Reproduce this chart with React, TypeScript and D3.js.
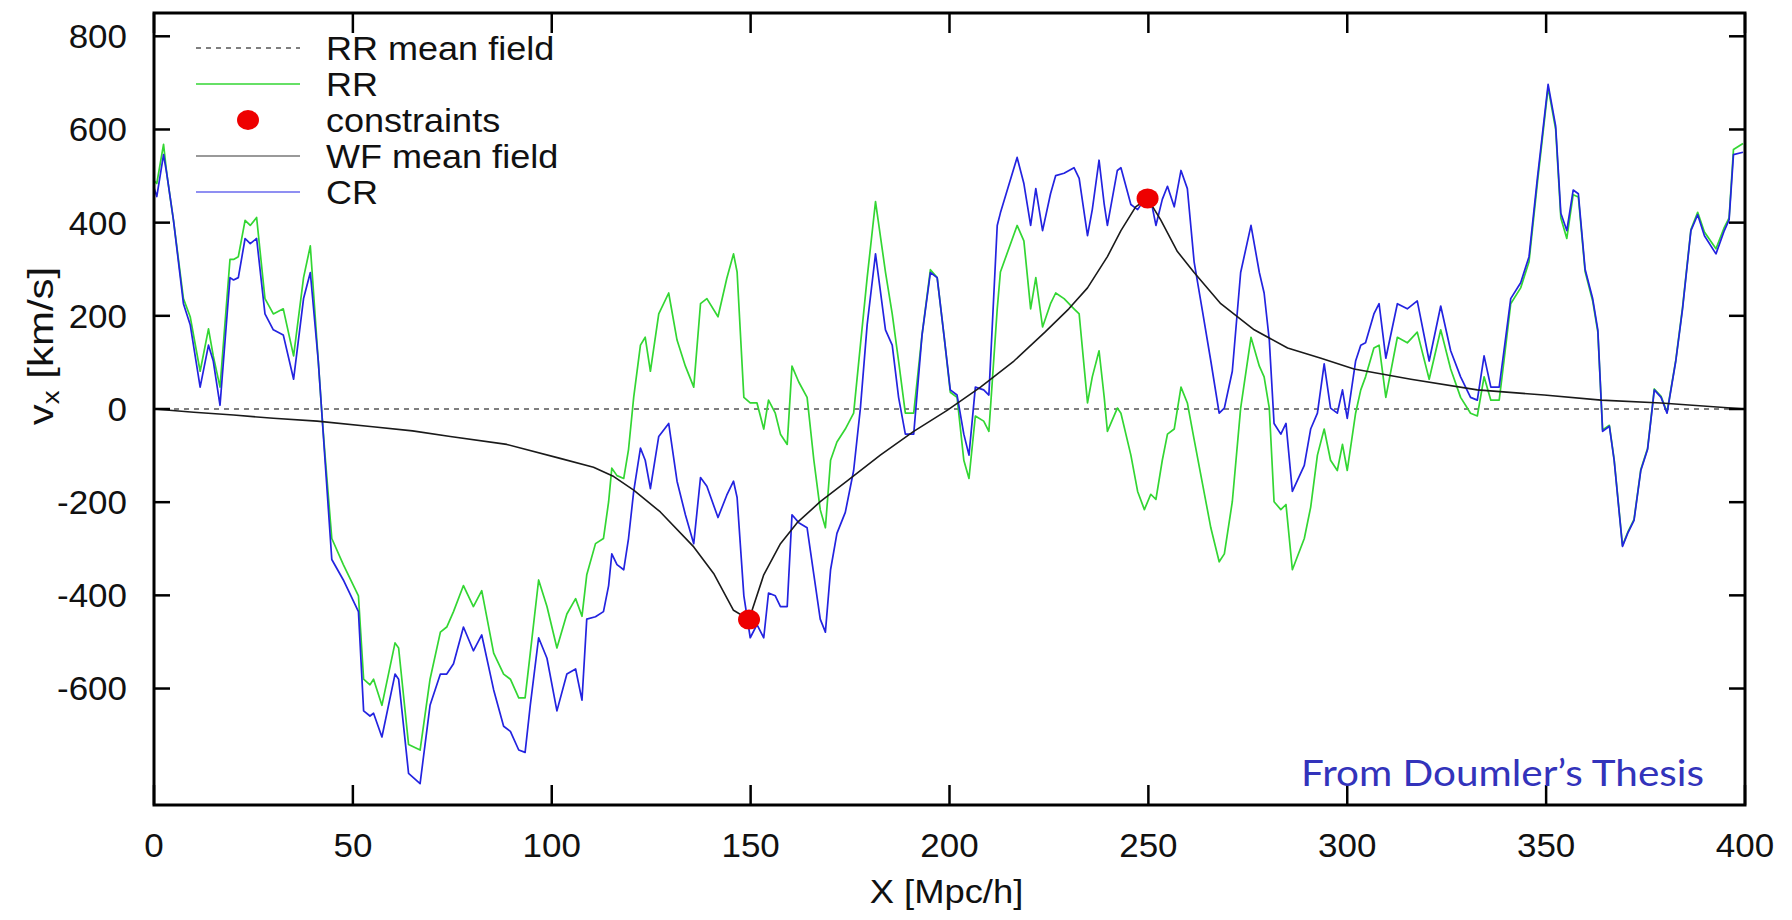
import React from 'react';
import * as d3 from 'd3';

// Position along the box, X [Mpc/h]
const xGrid = [
  0, 0.7, 2.4, 3.2, 4.9, 7.4, 9.1, 11.6, 13.7, 14.9, 16.6, 19.1, 20.0, 21.2, 22.9, 24.2, 25.8, 27.9, 30.0, 32.5,
  35.1, 37.6, 39.3, 41.3, 42.2, 43.0, 44.7, 47.6, 51.4, 52.7, 54.3, 55.2, 57.3, 60.6, 61.5, 64.0, 66.9, 69.4, 72.0, 73.6,
  75.3, 77.8, 80.3, 82.4, 85.4, 87.9, 89.6, 91.7, 93.3, 94.6, 96.7, 98.8, 101.3, 103.8, 106.0, 107.6, 108.8, 111.0, 113.0, 114.3,
  115.1, 116.4, 118.1, 119.3, 120.6, 122.3, 123.5, 124.8, 126.9, 129.4, 131.5, 133.6, 135.7, 137.4, 139.0, 141.8, 144.0, 145.7, 146.6, 148.3,
  149.9, 151.6, 153.3, 154.5, 156.2, 157.5, 159.2, 160.4, 162.1, 164.2, 165.9, 167.5, 168.8, 170.1, 171.7, 173.8, 175.9, 177.6, 179.3, 181.4,
  183.9, 185.6, 187.2, 188.9, 191.0, 193.1, 195.2, 196.9, 198.6, 200.2, 201.9, 203.6, 204.9, 206.5, 208.6, 209.9, 212.0, 212.8, 217.0, 218.7,
  220.4, 221.7, 223.4, 225.4, 226.7, 228.8, 231.3, 232.6, 234.7, 235.9, 237.6, 238.9, 239.7, 242.2, 243.1, 245.6, 247.3, 249.0, 250.6, 251.9,
  253.5, 254.8, 256.5, 258.2, 259.8, 261.5, 263.6, 265.7, 267.8, 269.1, 271.1, 273.2, 275.8, 277.9, 279.1, 280.4, 281.6, 283.3, 284.6, 286.2,
  289.2, 290.8, 292.5, 294.2, 295.8, 297.5, 298.8, 300.0, 302.1, 303.4, 304.6, 306.7, 308.0, 309.7, 312.6, 315.1, 317.6, 320.6, 323.5, 326.0,
  328.5, 331.0, 332.7, 334.4, 336.1, 338.2, 339.4, 341.1, 343.6, 345.7, 347.8, 350.5, 352.4, 353.7, 355.2, 356.8, 358.1, 359.8, 361.7, 363.0,
  364.2, 365.9, 367.1, 369.2, 370.5, 372.1, 373.8, 375.5, 377.2, 378.9, 380.4, 382.6, 384.3, 386.4, 388.1, 389.8, 392.7, 394.8, 396.0, 397.1,
  399.5,
];

// RR realisation (green)
const rrValues = [
  490, 484, 568, 506, 405, 237, 198, 81, 172, 114, 47, 321, 321, 327, 405, 394, 411, 237, 204, 215,
  114, 282, 350, 103, -9, -99, -278, -334, -401, -580, -592, -580, -636, -502, -513, -720, -732, -580, -479, -468,
  -435, -379, -424, -390, -524, -569, -580, -620, -620, -524, -367, -424, -513, -440, -407, -445, -356, -289, -278, -199,
  -127, -143, -149, -87, 25, 137, 154, 81, 204, 249, 148, 92, 47, 226, 237, 198, 280, 333, 294, 25,
  13, 13, -43, 19, -9, -54, -76, 92, 58, 25, -110, -216, -255, -110, -71, -43, -9, 137, 282, 445,
  294, 204, 103, -9, -9, 159, 299, 282, 159, 36, 25, -110, -149, -15, -26, -48, 215, 294, 394, 361,
  215, 282, 176, 226, 249, 237, 215, 204, 13, 69, 125, 25, -48, 2, -9, -99, -177, -216, -183, -194,
  -110, -54, -43, 47, 13, -65, -160, -255, -328, -311, -199, 2, 154, 92, 69, 2, -199, -216, -205, -345,
  -278, -211, -99, -43, -110, -132, -76, -132, -9, 41, 69, 131, 137, 25, 154, 142, 165, 64, 170, 86,
  25, -9, -15, 69, 19, 19, 103, 226, 260, 316, 485, 690, 600, 410, 366, 460, 455, 295, 232, 165,
  -45, -35, -108, -293, -265, -237, -130, -85, 43, 27, -7, 105, 218, 385, 422, 380, 344, 390, 410, 557,
  570,
];

// Constrained realisation (blue)
const crValues = [
  475, 456, 546, 506, 405, 226, 181, 47, 137, 103, 8, 282, 277, 282, 366, 355, 366, 204, 170, 159,
  64, 237, 293, 103, -9, -110, -323, -367, -435, -648, -659, -653, -704, -569, -580, -782, -804, -636, -569, -569,
  -547, -468, -519, -485, -603, -681, -692, -732, -737, -636, -491, -535, -648, -569, -558, -625, -451, -446, -435, -379,
  -311, -334, -345, -278, -177, -84, -110, -171, -59, -31, -155, -227, -289, -147, -166, -233, -185, -155, -190, -401,
  -491, -463, -491, -395, -401, -424, -424, -227, -244, -255, -356, -451, -479, -345, -267, -222, -132, 2, 181, 333,
  170, 137, 25, -54, -54, 159, 293, 282, 159, 41, 30, -54, -99, 47, 41, 30, 394, 421, 540, 484,
  394, 473, 383, 462, 501, 506, 518, 495, 372, 428, 534, 439, 394, 512, 518, 439, 428, 450, 450, 394,
  450, 478, 434, 512, 473, 316, 210, 103, -9, 2, 81, 293, 394, 293, 249, 148, -31, -54, -31, -177,
  -121, -43, -9, 97, 2, -9, 41, -20, 103, 137, 142, 204, 226, 109, 226, 215, 232, 103, 221, 125,
  69, 25, 19, 114, 47, 47, 125, 237, 271, 327, 495, 697, 607, 420, 383, 470, 462, 300, 237, 170,
  -48, -37, -110, -295, -267, -239, -132, -87, 41, 25, -9, 103, 215, 383, 417, 372, 333, 383, 406, 546,
  551,
];

// Wiener-filter mean field (black)
const wfX = [0, 10, 20, 30, 41, 55, 65, 74.5, 88.7, 102.1, 110.5, 115.6, 120.6, 127.3, 135.7, 140.7, 145.7, 149.6,
  153.3, 157.5, 161.7, 167.5, 174.2, 182.6, 191, 199.4, 207.8, 216.2, 224, 230, 234.7, 239.7, 243.1, 246.8, 249.8,
  253.1, 257.3, 261.5, 268.2, 276.6, 285, 293.4, 301.7, 316, 332.7, 349.5, 363.8, 378.9, 400];
const wfValues = [0, -7, -13, -20, -26, -38, -47, -59, -76, -106, -125, -145, -174, -221, -296, -353, -432, -452,
  -356, -289, -244, -199, -155, -99, -48, -3, 47, 103, 165, 215, 260, 327, 383, 434, 452,
  406, 338, 293, 226, 170, 131, 109, 86, 64, 41, 30, 19, 13, 0];

const constraintX = [149.6, 249.8];
const constraintV = [-452, 452];

const xTicks = [0, 50, 100, 150, 200, 250, 300, 350, 400];
const yTicks = [800, 600, 400, 200, 0, -200, -400, -600];

const legendLabels = ['RR mean field', 'RR', 'constraints', 'WF mean field', 'CR'];

const GREEN = '#33d633';
const BLUE = '#2323e0';
const FONT = '"Liberation Sans", Arial, Helvetica, sans-serif';

function SText(props: { x: number; y: number; size: number; sx?: number; anchor?: string; dy?: string; children: React.ReactNode }) {
  const { x, y, size, sx = 1.06, anchor = 'start', dy, children } = props;
  return (
    <g transform={`translate(${x},${y}) scale(${sx},1)`}>
      <text x={0} y={0} dy={dy} textAnchor={anchor as any} fontFamily={FONT} fontSize={size} fill="#111">{children}</text>
    </g>
  );
}

export default function App() {
  const left = 154, right = 1745, top = 13, bottom = 805;
  const x = d3.scaleLinear().domain([0, 400]).range([left, right]);
  const y = d3.scaleLinear().domain([-850, 850]).range([bottom, top]);
  const line = d3.line<[number, number]>().x(d => x(d[0])).y(d => y(d[1]));

  const rrPath = line(xGrid.map((v, i) => [v, rrValues[i]] as [number, number])) || '';
  const crPath = line(xGrid.map((v, i) => [v, crValues[i]] as [number, number])) || '';
  const wfPath = line(wfX.map((v, i) => [v, wfValues[i]] as [number, number])) || '';

  const legendY = [48, 84, 120, 156, 192];
  const lx0 = 196, lx1 = 300, tx = 326;

  return (
    <svg width={1792} height={920} viewBox="0 0 1792 920"
      style={{ position: 'absolute', left: 0, top: 0, background: '#fff' }}>
      <rect x={0} y={0} width={1792} height={920} fill="#fff" />
      <defs>
        <clipPath id="plotclip">
          <rect x={left} y={top} width={right - left} height={bottom - top} />
        </clipPath>
      </defs>

      <g clipPath="url(#plotclip)">
        <line x1={x(0)} x2={x(400)} y1={y(0)} y2={y(0)} stroke="#555" strokeWidth={1.3} strokeDasharray="5,5" />
        <path d={rrPath} fill="none" stroke={GREEN} strokeWidth={1.7} strokeLinejoin="round" />
        <path d={crPath} fill="none" stroke={BLUE} strokeWidth={1.7} strokeLinejoin="round" />
        <path d={wfPath} fill="none" stroke="#1a1a1a" strokeWidth={1.6} strokeLinejoin="round" />
        {constraintX.map((cx, i) => (
          <ellipse key={i} cx={x(cx)} cy={y(constraintV[i])} rx={11} ry={10} fill="#ee0000" />
        ))}
      </g>

      {/* ticks */}
      {xTicks.map(t => (
        <g key={'xt' + t}>
          <line x1={x(t)} x2={x(t)} y1={bottom} y2={bottom - 20} stroke="#000" strokeWidth={2.5} />
          <line x1={x(t)} x2={x(t)} y1={top} y2={top + 20} stroke="#000" strokeWidth={2.5} />
          <SText x={x(t)} y={857} size={33} anchor="middle">{t}</SText>
        </g>
      ))}
      {yTicks.map(t => (
        <g key={'yt' + t}>
          <line x1={left} x2={left + 16} y1={y(t)} y2={y(t)} stroke="#000" strokeWidth={2.5} />
          <line x1={right} x2={right - 16} y1={y(t)} y2={y(t)} stroke="#000" strokeWidth={2.5} />
          <SText x={127} y={y(t)} dy="0.36em" size={33} anchor="end">{t}</SText>
        </g>
      ))}

      {/* frame */}
      <rect x={left} y={top} width={right - left} height={bottom - top} fill="none" stroke="#000" strokeWidth={3} />

      {/* axis labels */}
      <SText x={(left + right) / 2 - 3} y={903} size={34} anchor="middle" sx={1.07}>X [Mpc/h]</SText>
      <g transform="translate(53,346) rotate(-90) scale(1.2,1)">
        <text x={0} y={0} textAnchor="middle" fontFamily={FONT} fontSize={35} fill="#111">
          v<tspan fontSize={23} dy={6}>x</tspan><tspan dy={-6}> [km/s]</tspan>
        </text>
      </g>

      {/* legend */}
      <g>
        <line x1={lx0} x2={lx1} y1={legendY[0]} y2={legendY[0]} stroke="#555" strokeWidth={1.3} strokeDasharray="5,5" />
        <line x1={lx0} x2={lx1} y1={legendY[1]} y2={legendY[1]} stroke={GREEN} strokeWidth={1.7} />
        <ellipse cx={(lx0 + lx1) / 2} cy={legendY[2]} rx={11} ry={10} fill="#ee0000" />
        <line x1={lx0} x2={lx1} y1={legendY[3]} y2={legendY[3]} stroke="#777" strokeWidth={1.7} />
        <line x1={lx0} x2={lx1} y1={legendY[4]} y2={legendY[4]} stroke="#6a6aee" strokeWidth={1.7} />
        {legendLabels.map((l, i) => (
          <SText key={l} x={tx} y={legendY[i]} dy="0.36em" size={34}>{l}</SText>
        ))}
      </g>

      <text x={1301} y={786} fontFamily='Lato, "Open Sans", sans-serif' fontSize={36} fill="#3333bb"
        textLength={403} lengthAdjust="spacingAndGlyphs">From Doumler’s Thesis</text>
    </svg>
  );
}
